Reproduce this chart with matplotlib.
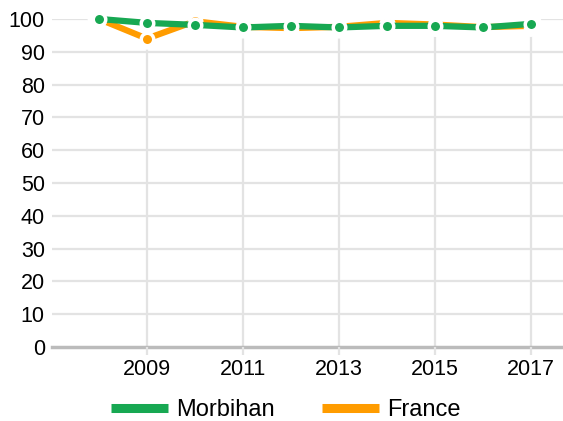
import matplotlib.pyplot as plt

plt.rcParams["font.family"] = ["Liberation Sans", "DejaVu Sans"]

years = [2008, 2009, 2010, 2011, 2012, 2013, 2014, 2015, 2016, 2017]
morbihan = [100, 98.8, 98.2, 97.4, 97.9, 97.4, 97.9, 97.9, 97.4, 98.5]
france = [100, 94.0, 99.3, 97.6, 97.2, 97.6, 98.8, 98.3, 97.5, 97.9]

green = "#17a852"
orange = "#ff9c00"

fig = plt.figure(figsize=(5.63, 4.21), dpi=100)
ax = fig.add_axes([0.092, 0.176, 0.908, 0.779])

ax.set_xlim(2007.02, 2017.667)
ax.set_ylim(0, 100)
ax.set_yticks(range(0, 101, 10))
ax.set_xticks([2009, 2011, 2013, 2015, 2017])

# grid
for y in range(10, 101, 10):
    ax.axhline(y, color="#e3e3e3", lw=1.6, zorder=0)
for x in [2009, 2011, 2013, 2015, 2017]:
    ax.axvline(x, color="#e3e3e3", lw=1.6, zorder=0)
ax.axhline(0, color="#bbbbbb", lw=2.5, zorder=1, clip_on=False)

for s in ax.spines.values():
    s.set_visible(False)
ax.tick_params(axis="y", length=0, labelsize=15.5, pad=5)
ax.tick_params(axis="x", length=6, width=1.6, color="#e3e3e3", labelsize=15.5, pad=3)

# white halo under the lines
for vals in (france, morbihan):
    ax.plot(years, vals, color="white", lw=16, solid_capstyle="round",
            zorder=2, clip_on=False)

ax.plot(years, france, color=orange, lw=4.5, zorder=3, clip_on=False,
        marker="o", ms=9, mec="white", mew=2.5, mfc=orange)
ax.plot(years, morbihan, color=green, lw=4.5, zorder=4, clip_on=False,
        marker="o", ms=9, mec="white", mew=2.5, mfc=green)

leg_handles = [plt.Line2D([], [], color=green, lw=6.5, solid_capstyle="butt"),
               plt.Line2D([], [], color=orange, lw=6.5, solid_capstyle="butt")]
fig.legend(leg_handles, ["Morbihan", "France"], loc="center",
           bbox_to_anchor=(0.508, 1 - 410 / 421), ncol=2, frameon=False,
           fontsize=17, handlelength=2.4, columnspacing=2.0, handletextpad=0.35,
           borderpad=0.1)

fig.savefig("out.png", dpi=100)
